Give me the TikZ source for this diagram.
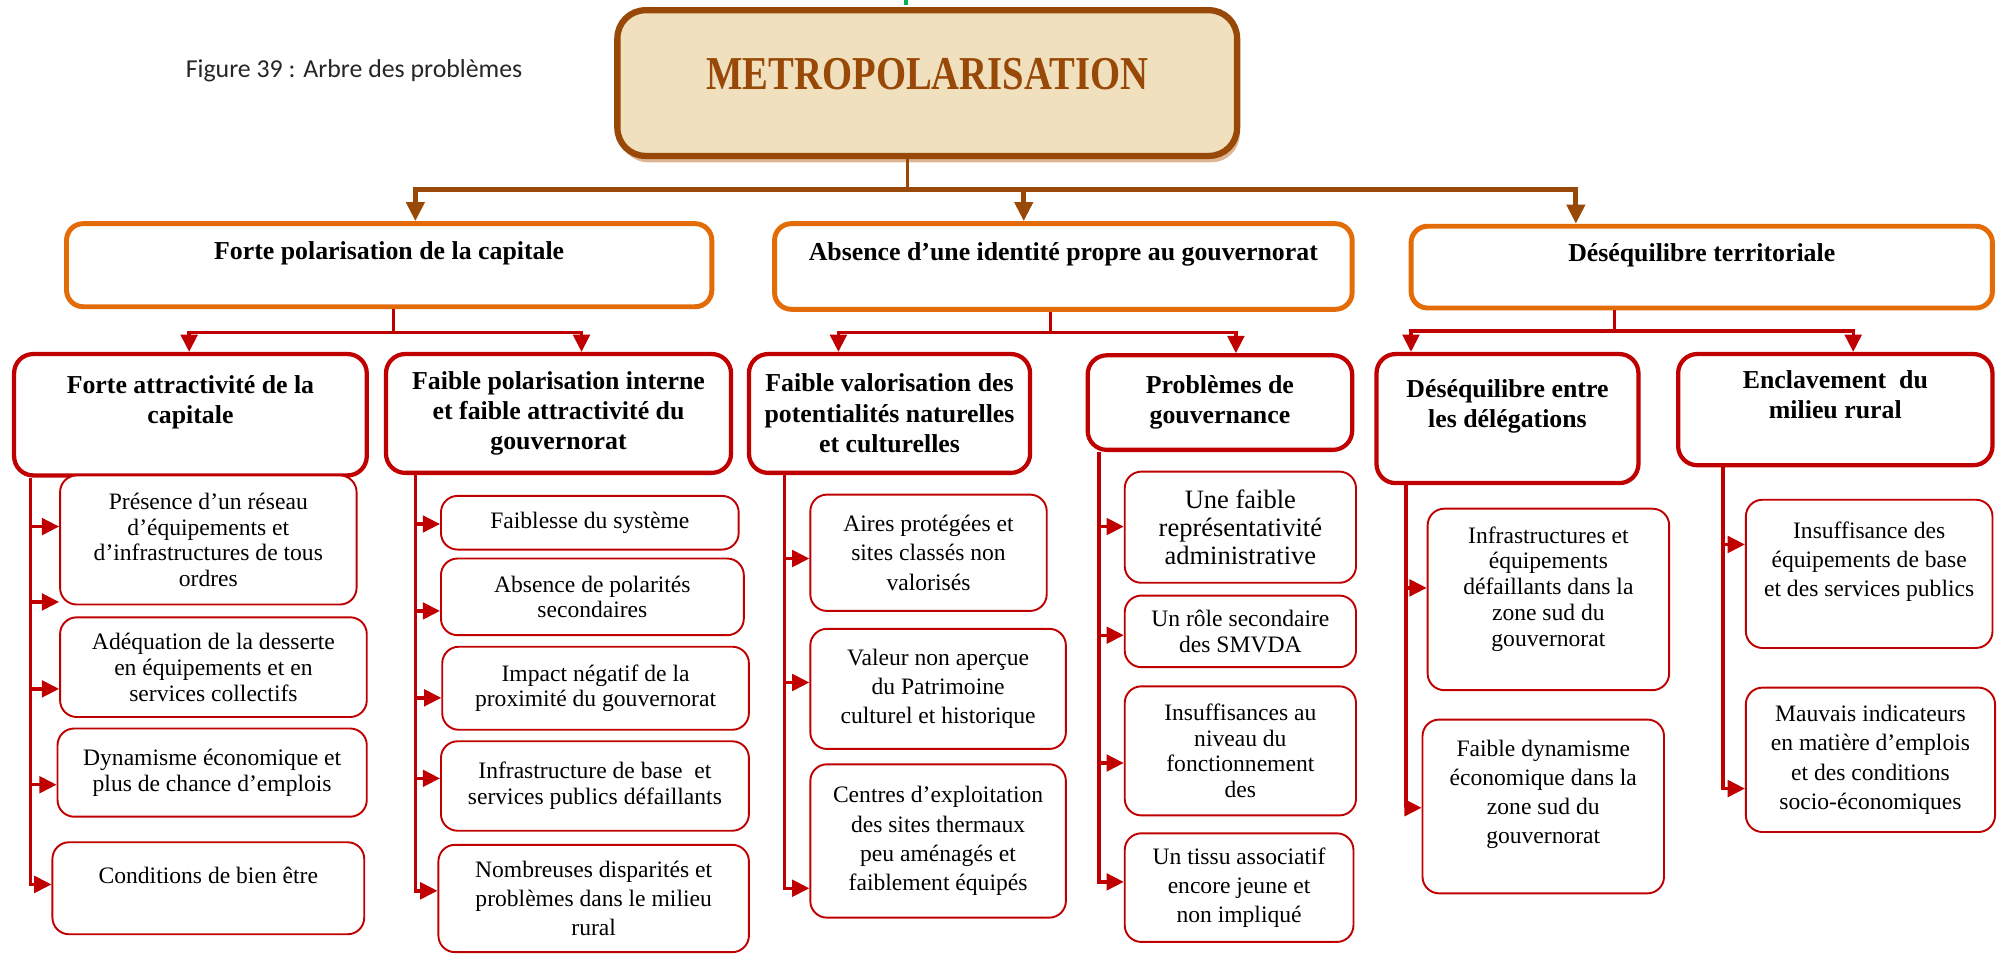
\documentclass[tikz,border=0pt]{standalone}
\usepackage{fontspec}
\setmainfont{Liberation Serif}
\newfontfamily\capfont{Carlito}
\usepackage{graphicx}
\usepackage{xcolor}
\usepackage{tikz}
\usetikzlibrary{
  arrows.meta,
  shadows
}
\definecolor{treebrown}{RGB}{152, 72, 7}
\definecolor{treeorange}{RGB}{227, 108, 9}
\definecolor{treered}{RGB}{192, 0, 0}
\definecolor{parchment}{RGB}{240, 224, 190}
\definecolor{shadowtan}{RGB}{222, 182, 148}
\definecolor{tickgreen}{RGB}{0, 176, 80}

\begin{document}
\begin{tikzpicture}[
  x=0.02cm, y=-0.02cm,
  sz/.style 2 args={minimum width=#1cm, minimum height=#2cm},
  rootbox/.style={draw=treebrown, fill=parchment, line width=2.8pt, rounded corners=4.4mm,
                  drop shadow={shadow xshift=0.4mm, shadow yshift=-1mm, fill=shadowtan, opacity=1},
                  text=treebrown, text depth=8pt, font=\fontsize{21}{24}\selectfont\bfseries},
  mainbox/.style={draw=treeorange, fill=white, line width=2.2pt, rounded corners=2.6mm,
                  align=center, font=\fontsize{11.5}{13}\selectfont\bfseries},
  subbox/.style={draw=treered, fill=white, line width=1.9pt, rounded corners=3mm,
                 align=center, font=\fontsize{11.5}{13.5}\selectfont\bfseries},
  leafbox/.style={draw=treered, fill=white, line width=0.85pt, rounded corners=2.6mm,
                  align=center, inner sep=2pt, font=\fontsize{10.5}{11.5}\selectfont},
  airy/.style={font=\fontsize{10.5}{13}\selectfont},
  large/.style={font=\fontsize{11.8}{12.5}\selectfont},
  caption/.style={font=\capfont\fontsize{11.5}{13}\selectfont, text=black!85},
  bus/.style={draw=treebrown, line width=2.2pt},
  busarr/.style={bus, -{Triangle[length=3mm, width=2.8mm]}},
  link/.style={draw=treered, line width=1.5pt},
  linkarr/.style={link, -{Triangle[length=2.7mm, width=2.6mm]}}
]
\useasboundingbox (0,0) rectangle (1568,747);

% caption and root
\node[caption] (fig) at (277,55) {Figure 39 : Arbre des problèmes};
\fill[tickgreen] (707.5,0) rectangle (710.5,4);
\node[rootbox, sz={9.70}{2.28}] (root) at (725.5,65) {\scalebox{0.82}[1]{METROPOLARISATION}};

% first level
\node[mainbox, sz={10.10}{1.30}] (capit) at (304.5,207.5) {Forte polarisation de la capitale\\~};
\node[mainbox, sz={9.04}{1.34}] (ident) at (832,208.5) {Absence d’une identité propre au gouvernorat\\~};
\node[mainbox, sz={9.10}{1.28}] (deseq) at (1331.5,209) {Déséquilibre territoriale\\~};

% second level
\node[subbox, sz={5.52}{1.90}] (attr) at (149,324.5) {Forte attractivité de la\\capitale\\~};
\node[subbox, sz={5.40}{1.86}] (polint) at (437,323.5) {Faible polarisation interne\\et faible attractivité du\\gouvernorat};
\node[subbox, sz={4.40}{1.86}] (valor) at (696,323.5) {Faible valorisation des\\potentialités naturelles\\et culturelles};
\node[subbox, sz={4.14}{1.48}] (gouv) at (954.5,315) {Problèmes de\\gouvernance};
\node[subbox, sz={4.10}{2.02}] (deleg) at (1179.5,327.5) {Déséquilibre entre\\les délégations\\~};
\node[subbox, sz={4.92}{1.74}] (encl) at (1436,320.5) {Enclavement~ du\\milieu rural\\~};

% leaves
\node[leafbox, sz={4.64}{2.02}] (attr1) at (163,422.5) {Présence d'un réseau\\d'équipements et\\d'infrastructures de tous\\ordres};
\node[leafbox, sz={4.80}{1.56}] (attr2) at (167,522) {Adéquation de la desserte\\en équipements et en\\services collectifs};
\node[leafbox, sz={4.84}{1.38}] (attr3) at (166,604.5) {Dynamisme économique et\\plus de chance d’emplois};
\node[leafbox, sz={4.88}{1.44}] (attr4) at (163,695) {Conditions de bien être\\~};

\node[leafbox, sz={4.66}{0.84}] (polint1) at (461.5,409) {Faiblesse du système};
\node[leafbox, sz={4.74}{1.20}] (polint2) at (463.5,467) {Absence de polarités\\secondaires};
\node[leafbox, sz={4.80}{1.30}] (polint3) at (466,538.5) {Impact négatif de la\\proximité du gouvernorat};
\node[leafbox, sz={4.82}{1.40}] (polint4) at (465.5,615) {Infrastructure de base~ et\\services publics défaillants};
\node[leafbox, airy, sz={4.86}{1.68}] (polint5) at (464.5,703) {Nombreuses disparités et\\problèmes dans le milieu\\rural};

\node[leafbox, airy, sz={3.70}{1.82}] (valor1) at (726.5,432.5) {Aires protégées et\\sites classés non\\valorisés};
\node[leafbox, airy, sz={4.00}{1.88}] (valor2) at (734,539) {Valeur non aperçue\\du Patrimoine\\culturel et historique};
\node[leafbox, airy, sz={4.00}{2.40}] (valor3) at (734,658) {Centres d’exploitation\\des sites thermaux\\peu aménagés et\\faiblement équipés};

\node[leafbox, large, sz={3.62}{1.74}] (gouv1) at (970.5,412.5) {Une faible\\représentativité\\administrative};
\node[leafbox, sz={3.62}{1.12}] (gouv2) at (970.5,494) {Un rôle secondaire\\des SMVDA};
\node[leafbox, sz={3.62}{2.02}] (gouv3) at (970.5,587.5) {Insuffisances au\\niveau du\\fonctionnement\\des};
\node[leafbox, airy, sz={3.58}{1.70}] (gouv4) at (969.5,694.5) {Un tissu associatif\\encore jeune et\\non impliqué};

\node[leafbox, sz={3.78}{2.84}] (deleg1) at (1211.5,469) {Infrastructures et\\équipements\\défaillants dans la\\zone sud du\\gouvernorat\\~};
\node[leafbox, airy, sz={3.78}{2.72}] (deleg2) at (1207.5,631) {Faible dynamisme\\économique dans la\\zone sud du\\gouvernorat\\~};
\node[leafbox, airy, sz={3.86}{2.32}] (encl1) at (1462.5,449) {Insuffisance des\\équipements de base\\et des services publics\\~};
\node[leafbox, airy, sz={3.90}{2.26}] (encl2) at (1463.5,594.5) {Mauvais indicateurs\\en matière d’emplois\\et des conditions\\socio-économiques};

% brown connectors
\coordinate (jroot) at (710,148);
\draw[bus, line width=1.6pt] (root.south -| jroot) -- (jroot);
\draw[busarr] (jroot) -| (capit.north -| 325,0);
\draw[busarr] (jroot) -| (deseq.north -| 1233,0);
\draw[busarr] (801,148) -- (ident.north -| 801,0);

% red connectors, first to second level
\coordinate (jcapit) at (308,260);
\coordinate (jident) at (822,260);
\coordinate (jdeseq) at (1263,259);
\draw[link] (capit.south -| jcapit) -- (jcapit);
\draw[linkarr] (jcapit) -| (attr.north -| 148,0);
\draw[linkarr] (jcapit) -| (polint.north -| 455,0);
\draw[link] (ident.south -| jident) -- (jident);
\draw[linkarr] (jident) -| (valor.north -| 656,0);
\draw[linkarr] (jident) -| (gouv.north -| 967,0);
\draw[link] (deseq.south -| jdeseq) -- (jdeseq);
\draw[linkarr] (jdeseq) -| (deleg.north -| 1104,0);
\draw[linkarr] (jdeseq) -| (encl.north -| 1450,0);

% spines to the leaves
\draw[linkarr] (attr.south -| 24,0) |- (attr4.west |- 0,692);
\foreach \b/\y in {attr1/412, attr1/471, attr2/539, attr3/614}
  \draw[linkarr] (24,\y) -- (\b.west |- 0,\y);

\draw[linkarr] (polint.south -| 325,0) |- (polint5.west |- 0,697);
\foreach \b/\y in {polint1/410, polint2/478, polint3/546, polint4/609}
  \draw[linkarr] (325,\y) -- (\b.west |- 0,\y);

\draw[linkarr] (valor.south -| 614,0) |- (valor3.west |- 0,695);
\foreach \b/\y in {valor1/437, valor2/534}
  \draw[linkarr] (614,\y) -- (\b.west |- 0,\y);

\draw[linkarr] (gouv.south -| 860,0) |- (gouv4.west |- 0,690);
\foreach \b/\y in {gouv1/412, gouv2/497, gouv3/597}
  \draw[linkarr] (860,\y) -- (\b.west |- 0,\y);

\draw[linkarr] (deleg.south -| 1100,0) |- (deleg2.west |- 0,632);
\draw[linkarr] (1100,460) -- (deleg1.west |- 0,460);

\draw[linkarr] (encl.south -| 1348,0) |- (encl2.west |- 0,617);
\draw[linkarr] (1348,426) -- (encl1.west |- 0,426);

\end{tikzpicture}
\end{document}
